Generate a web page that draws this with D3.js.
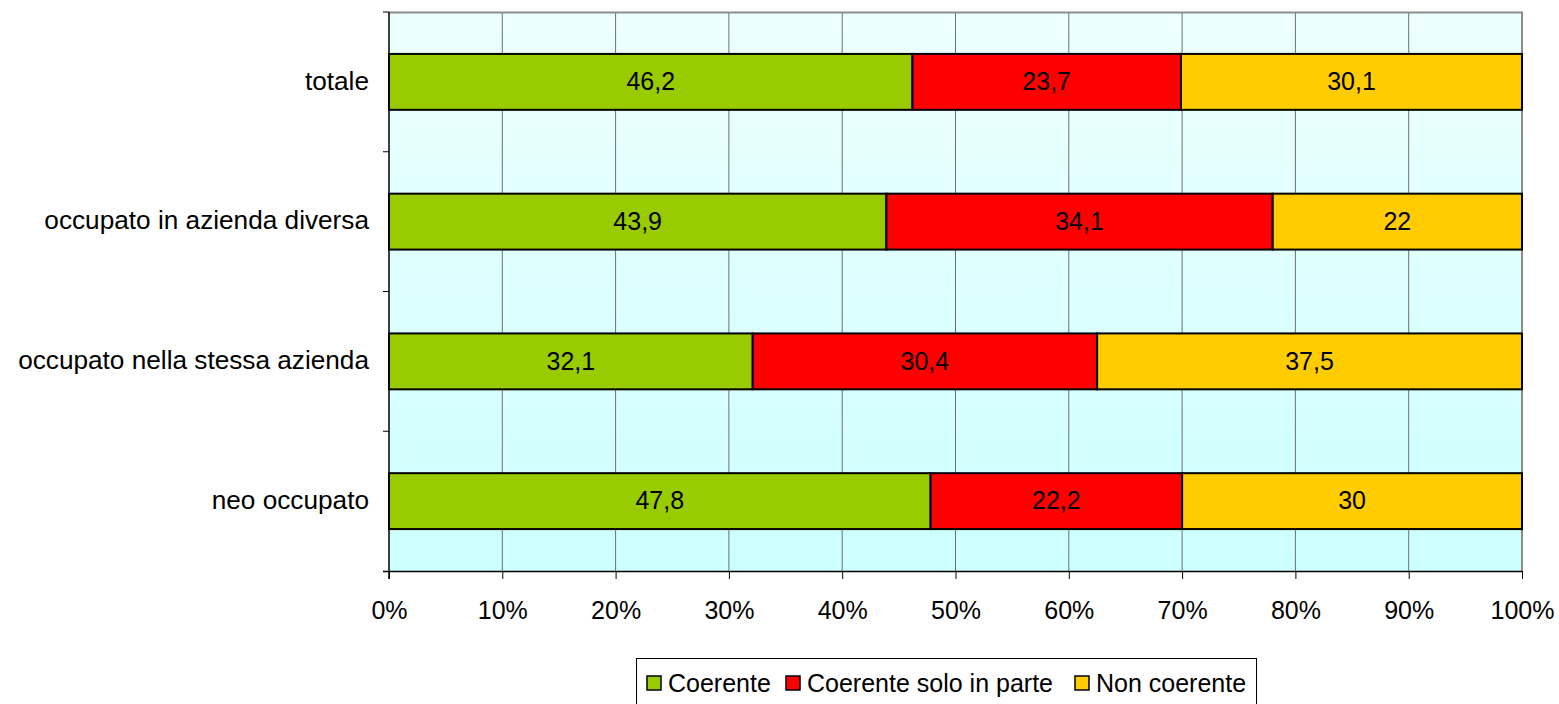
<!DOCTYPE html>
<html><head><meta charset="utf-8">
<script src="https://cdn.jsdelivr.net/npm/d3@7"></script>
<style>body{margin:0;background:#fff}svg{display:block}text{font-family:"Liberation Sans",Arial,sans-serif;fill:#000}</style>
</head><body>
<svg id="c" width="1559" height="704"></svg>
<script>
const categories = ["totale","occupato in azienda diversa","occupato nella stessa azienda","neo occupato"];
const seriesNames = ["Coerente","Coerente solo in parte","Non coerente"];
const coerente = [46.2, 43.9, 32.1, 47.8];
const coerenteParte = [23.7, 34.1, 30.4, 22.2];
const nonCoerente = [30.1, 22, 37.5, 30];
const colors = ["#99CC00","#FF0000","#FFCC00"];
const xTicks = [0,10,20,30,40,50,60,70,80,90,100];

const svg = d3.select("#c");
const L=389, R=1522, T=12, B=571;
const x = d3.scaleLinear().domain([0,100]).range([L,R]);
const y = d3.scaleBand().domain(categories).range([T,B]).paddingInner(0.6).paddingOuter(0.3);
const yb = d3.scaleBand().domain(categories).range([T,B]);

const defs = svg.append("defs");
const g = defs.append("linearGradient").attr("id","bg").attr("x1",0).attr("y1",0).attr("x2",0).attr("y2",1);
g.append("stop").attr("offset","0%").attr("stop-color","#EEFFFF");
g.append("stop").attr("offset","100%").attr("stop-color","#CCFFFF");
svg.append("rect").attr("x",L).attr("y",T).attr("width",R-L).attr("height",B-T).attr("fill","url(#bg)");

// grid
svg.append("g").selectAll("line").data(xTicks.slice(1)).join("line")
  .attr("x1",d=>x(d)).attr("x2",d=>x(d)).attr("y1",T).attr("y2",B)
  .attr("stroke","#6f6f6f").attr("stroke-width",1);
// border top/right
svg.append("path").attr("d",`M${L},${T+0.5}H${R}V${B}`).attr("fill","none").attr("stroke","#8c8c8c").attr("stroke-width",2);

const data = categories.map((c,i)=>({cat:c, vals:[coerente[i],coerenteParte[i],nonCoerente[i]]}));
const fmt = v => String(v).replace(".",",");
data.forEach(d=>{
  let acc=0;
  d.vals.forEach((v,j)=>{
    const x0=acc, x1=acc+v; acc=x1;
    svg.append("rect").attr("x",x(x0)).attr("y",y(d.cat)).attr("width",x(x1)-x(x0)).attr("height",y.bandwidth())
      .attr("fill",colors[j]).attr("stroke","#000").attr("stroke-width",2);
    svg.append("text").attr("x",(x(x0)+x(x1))/2).attr("y",y(d.cat)+y.bandwidth()/2).attr("dy","0.33em")
      .attr("text-anchor","middle").attr("font-size",25).text(fmt(v));
  });
});

// x axis
const xa = svg.append("g").attr("transform",`translate(0,${B})`)
  .call(d3.axisBottom(x).tickValues(xTicks).tickFormat(d=>d+"%").tickSize(8).tickPadding(22));
xa.select(".domain").attr("stroke","#000").attr("stroke-width",1.5).attr("d",`M${L-6},0.5H${R}`);
xa.selectAll(".tick line").attr("stroke","#000");
xa.selectAll("text").attr("font-size",25).attr("font-family","Liberation Sans, Arial, sans-serif");

// y axis
svg.append("line").attr("x1",L).attr("x2",L).attr("y1",T).attr("y2",B+8).attr("stroke","#000").attr("stroke-width",1.5);
svg.append("g").selectAll("line").data(categories).join("line")
  .attr("x1",L-6).attr("x2",L).attr("y1",d=>yb(d)).attr("y2",d=>yb(d)).attr("stroke","#000");
svg.append("g").selectAll("text").data(categories).join("text")
  .attr("x",L-20).attr("y",d=>y(d)+y.bandwidth()/2).attr("dy","0.3em").attr("text-anchor","end")
  .attr("font-size",26.2).text(d=>d);

// legend
const lg = svg.append("g");
lg.append("rect").attr("x",636.5).attr("y",658.5).attr("width",620).attr("height",46).attr("fill","#fff").attr("stroke","#000").attr("stroke-width",1);
const lx=[647,786,1075];
seriesNames.forEach((n,i)=>{
  lg.append("rect").attr("x",lx[i]).attr("y",676).attr("width",14).attr("height",14).attr("fill",colors[i]).attr("stroke","#000").attr("stroke-width",1.5);
  lg.append("text").attr("x",lx[i]+21).attr("y",683).attr("dy","0.35em").attr("font-size",25).text(n);
});
</script>
</body></html>
